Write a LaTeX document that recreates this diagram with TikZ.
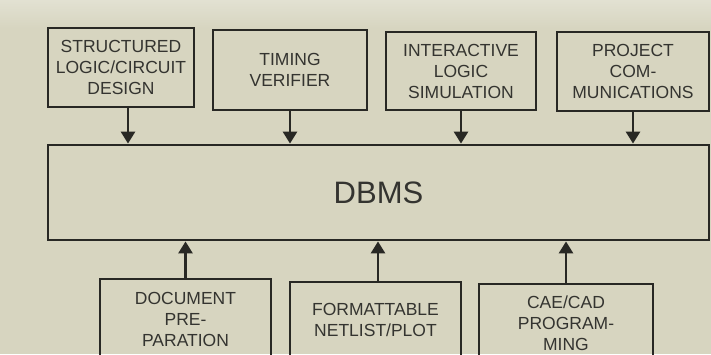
\documentclass[tikz,border=0pt]{standalone}
\usepackage{fontspec}
\setmainfont{Liberation Sans}
\usetikzlibrary{arrows.meta,calc}
\definecolor{paper}{RGB}{215,213,192}
\definecolor{paperlight}{RGB}{226,225,210}
\definecolor{ink}{RGB}{40,40,36}
\definecolor{type}{RGB}{52,52,48}
\tikzset{
  box/.style={draw=ink, line width=2.8pt, rectangle, inner sep=0pt,
    align=center, text=type, font=\fontsize{17.5}{21}\selectfont},
  feed/.style={draw=ink, line width=2.7pt,
    -{Triangle[width=14pt,length=12pt]}},
}
\begin{document}
\begin{tikzpicture}[x=1pt,y=-1pt]
  \clip (0,0) rectangle (711,354);
  \useasboundingbox (0,0) rectangle (711,354);
  \fill[paper] (0,0) rectangle (711,354);
  \shade[top color=paperlight, bottom color=paper] (0,0) rectangle (711,28);

  % central database box
  \node[box, minimum width=661pt, minimum height=95pt,
        font=\fontsize{31}{34}\selectfont] (dbms) at (378.5,192.5) {DBMS};

  % tools feeding the database from above
  \node[box, minimum width=146pt, minimum height=79pt] (sld) at (121,67.5)
    {STRUCTURED\\LOGIC/CIRCUIT\\DESIGN};
  \node[box, minimum width=154pt, minimum height=80pt] (tv) at (290,70)
    {TIMING\\VERIFIER};
  \node[box, minimum width=150pt, minimum height=78pt] (ils) at (461,71)
    {INTERACTIVE\\LOGIC\\SIMULATION};
  \node[box, minimum width=152pt, minimum height=79pt] (pc) at (633,71.5)
    {PROJECT\\COM-\\MUNICATIONS};

  % tools fed from the database below
  \node[box, minimum width=171pt, minimum height=80pt] (doc) at (185.5,319)
    {DOCUMENT\\PRE-\\PARATION};
  \node[box, minimum width=171pt, minimum height=76pt] (net) at (375.5,320)
    {FORMATTABLE\\NETLIST/PLOT};
  \node[box, minimum width=174pt, minimum height=78pt] (cae) at (566,323)
    {CAE/CAD\\PROGRAM-\\MING};

  % connectors into the database
  \coordinate (sldout) at ($(sld.south)+(7,0)$);
  \draw[feed] (sldout) -- (sldout |- dbms.north);
  \draw[feed] (tv.south) -- (tv.south |- dbms.north);
  \draw[feed] (ils.south) -- (ils.south |- dbms.north);
  \draw[feed] (pc.south) -- (pc.south |- dbms.north);
  \draw[feed] (doc.north) -- (doc.north |- dbms.south);
  \coordinate (netout) at ($(net.north)+(2.5,0)$);
  \draw[feed] (netout) -- (netout |- dbms.south);
  \draw[feed] (cae.north) -- (cae.north |- dbms.south);
\end{tikzpicture}
\end{document}
